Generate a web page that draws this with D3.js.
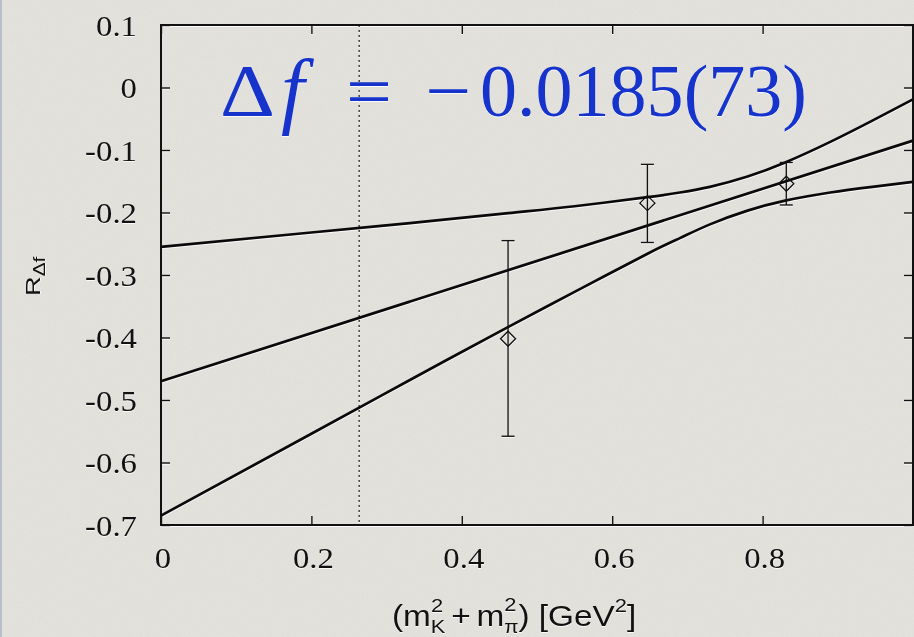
<!DOCTYPE html>
<html>
<head>
<meta charset="utf-8">
<script src="https://cdn.jsdelivr.net/npm/d3@7"></script>
<style>
  html, body { margin: 0; padding: 0; background: #e3e1dc; }
  svg { display: block; }
  .emboss { filter: drop-shadow(0 1.2px 0 rgba(255,255,255,0.85)); }
</style>
</head>
<body>
<svg id="CHART" width="914" height="637"></svg>
<script>
// axis ticks
var xTicks = [0, 0.2, 0.4, 0.6, 0.8];
var xTickLabels = ["0", "0.2", "0.4", "0.6", "0.8"];
var yTicks = [0.1, 0, -0.1, -0.2, -0.3, -0.4, -0.5, -0.6, -0.7];
var yTickLabels = ["0.1", "0", "-0.1", "-0.2", "-0.3", "-0.4", "-0.5", "-0.6", "-0.7"];

// lattice points with error bars
var ptX = [0.4615, 0.6468, 0.8315];
var ptY = [-0.402, -0.185, -0.154];
var ptHi = [-0.245, -0.123, -0.120];
var ptLo = [-0.558, -0.248, -0.188];

// linear fit (central line) and error band
var fitX = [0, 1.0];
var fitY = [-0.470, -0.085];
var bandX = [0, 0.2, 0.331, 0.462, 0.55, 0.647, 0.69, 0.73, 0.78, 0.83, 0.89, 0.946, 1.0];
var bandHi = [-0.255, -0.232, -0.217, -0.201, -0.190, -0.1755, -0.168, -0.159, -0.1425, -0.120, -0.087, -0.053, -0.019];
var bandLo = [-0.685, -0.554, -0.468, -0.383, -0.327, -0.266, -0.241, -0.219, -0.197, -0.181, -0.168, -0.159, -0.151];

// physical point (dotted line)
var physX = 0.2635;

var chart = {
  draw: function () {
    var svg = d3.select("#CHART");
    var W = 914, H = 637;
    var mL = 161, mR = 913, mT = 25, mB = 525;

    // textured backdrop
    var defs = svg.append("defs");
    var noise = defs.append("filter").attr("id", "grain")
      .attr("x", 0).attr("y", 0).attr("width", "100%").attr("height", "100%");
    noise.append("feTurbulence").attr("type", "fractalNoise")
      .attr("baseFrequency", 0.9).attr("numOctaves", 2).attr("seed", 4);
    noise.append("feColorMatrix").attr("type", "matrix")
      .attr("values", "0 0 0 0 0.45  0 0 0 0 0.44  0 0 0 0 0.42  0 0 0 0.28 -0.08");
    svg.append("rect").attr("width", W).attr("height", H).attr("fill", "#e4e2dd");
    svg.append("rect").attr("width", W).attr("height", H).attr("filter", "url(#grain)").attr("opacity", 0.5);
    svg.append("rect").attr("x", 0).attr("y", 0).attr("width", 2).attr("height", H).attr("fill", "#b8bfc8");

    var x = d3.scaleLinear().domain([0, 1.0]).range([mL, mR]);
    var y = d3.scaleLinear().domain([-0.7, 0.1]).range([mB, mT]);

    var plot = svg.append("g").attr("class", "emboss");

    // dotted physical point line
    plot.append("line")
      .attr("x1", x(physX)).attr("x2", x(physX))
      .attr("y1", y(0.1)).attr("y2", y(-0.7))
      .attr("stroke", "#1a1a1a").attr("stroke-width", 1.2)
      .attr("stroke-dasharray", "2,3");

    // axes: ticks pointing inward on all four sides
    var tickFont = "'Liberation Serif', 'Times New Roman', serif";
    var xAxis = plot.append("g").attr("transform", "translate(0," + mB + ")")
      .call(d3.axisBottom(x).tickValues(xTicks).tickSize(-9).tickPadding(22)
        .tickFormat(function (d, i) { return xTickLabels[i]; }));
    var yAxis = plot.append("g").attr("transform", "translate(" + mL + ",0)")
      .call(d3.axisLeft(y).tickValues(yTicks).tickSize(-9).tickPadding(24)
        .tickFormat(function (d, i) { return yTickLabels[i]; }));
    plot.append("g").attr("transform", "translate(0," + mT + ")")
      .call(d3.axisTop(x).tickValues(xTicks).tickSize(-9).tickFormat(""));
    plot.append("g").attr("transform", "translate(" + mR + ",0)")
      .call(d3.axisRight(y).tickValues(yTicks).tickSize(-9).tickFormat(""));

    plot.selectAll(".domain").remove();
    plot.selectAll(".tick line").attr("stroke", "#111").attr("stroke-width", 1.4);
    plot.selectAll(".tick text")
      .attr("fill", "#111")
      .style("font-family", tickFont)
      .style("font-size", "29px");
    xAxis.selectAll(".tick text")
      .attr("y", 0).attr("dy", "0.71em")
      .attr("transform", "translate(1.5,22) scale(1.13,1)");
    yAxis.selectAll(".tick text")
      .attr("x", 0).attr("dy", "0.36em")
      .attr("transform", "translate(-24,0) scale(1.13,1)");

    // frame
    plot.append("rect")
      .attr("x", mL).attr("y", mT)
      .attr("width", mR - mL).attr("height", mB - mT)
      .attr("fill", "none").attr("stroke", "#111").attr("stroke-width", 2);

    // fit curves
    var fitLine = d3.line()
      .x(function (d) { return x(d[0]); })
      .y(function (d) { return y(d[1]); })
      .curve(d3.curveNatural);

    var curves = [
      d3.zip(fitX, fitY),
      d3.zip(bandX, bandHi),
      d3.zip(bandX, bandLo)
    ];
    plot.append("g").selectAll("path")
      .data(curves)
      .join("path")
      .attr("d", fitLine)
      .attr("fill", "none")
      .attr("stroke", "#0a0a0a")
      .attr("stroke-width", 2.7);

    // data points: error bars + open diamonds
    var pts = d3.range(ptX.length).map(function (i) {
      return { x: ptX[i], y: ptY[i], hi: ptHi[i], lo: ptLo[i] };
    });
    var cap = 6.5, dm = 7.5;
    var pg = plot.append("g").selectAll("g").data(pts).join("g")
      .attr("stroke", "#111").attr("stroke-width", 1.35).attr("fill", "none");
    pg.append("line")
      .attr("x1", function (d) { return x(d.x); }).attr("x2", function (d) { return x(d.x); })
      .attr("y1", function (d) { return y(d.hi); }).attr("y2", function (d) { return y(d.lo); });
    pg.append("line")
      .attr("x1", function (d) { return x(d.x) - cap; }).attr("x2", function (d) { return x(d.x) + cap; })
      .attr("y1", function (d) { return y(d.hi); }).attr("y2", function (d) { return y(d.hi); });
    pg.append("line")
      .attr("x1", function (d) { return x(d.x) - cap; }).attr("x2", function (d) { return x(d.x) + cap; })
      .attr("y1", function (d) { return y(d.lo); }).attr("y2", function (d) { return y(d.lo); });
    pg.append("path")
      .attr("d", function (d) {
        var cx = x(d.x), cy = y(d.y);
        return "M" + cx + "," + (cy - dm) + "L" + (cx + dm) + "," + cy +
          "L" + cx + "," + (cy + dm) + "L" + (cx - dm) + "," + cy + "Z";
      });

    // result label
    var blue = "#1634cc";
    var res = svg.append("g").attr("class", "emboss")
      .attr("fill", blue)
      .style("font-family", "'Liberation Serif', 'Times New Roman', serif")
      .style("font-size", "75px");
    var base = 116;
    res.append("text").attr("x", 220).attr("y", base).attr("textLength", 55)
      .attr("lengthAdjust", "spacingAndGlyphs").text("\u0394");
    res.append("text").attr("x", 281).attr("y", base + 2).style("font-style", "italic")
      .style("font-size", "84px").text("f");
    res.append("text").attr("x", 346).attr("y", base).attr("textLength", 46)
      .attr("lengthAdjust", "spacingAndGlyphs").text("=");
    res.append("text").attr("x", 425).attr("y", base).attr("textLength", 46)
      .attr("lengthAdjust", "spacingAndGlyphs").text("\u2212");
    res.append("text").attr("x", 480).attr("y", base).attr("textLength", 327)
      .attr("lengthAdjust", "spacingAndGlyphs").text("0.0185(73)");

    // axis titles
    var sans = "'Liberation Sans', Arial, Helvetica, sans-serif";
    var yl = svg.append("text").attr("class", "emboss")
      .attr("transform", "translate(40,296) rotate(-90) scale(1.3,1)")
      .attr("fill", "#111")
      .style("font-family", sans).style("font-size", "21px");
    yl.append("tspan").text("R");
    yl.append("tspan").attr("dy", 5).style("font-size", "16px").text("\u0394f");

    var xl = svg.append("text").attr("class", "emboss")
      .attr("transform", "translate(392,626) scale(1.15,1)")
      .attr("fill", "#111")
      .style("font-family", sans).style("font-size", "29px");
    xl.append("tspan").text("(m");
    xl.append("tspan").attr("dy", -14).style("font-size", "19px").text("2");
    xl.append("tspan").attr("dx", -10.6).attr("dy", 21).style("font-size", "19px").text("K");
    xl.append("tspan").attr("dx", 5).attr("dy", -7).text("+");
    xl.append("tspan").attr("dx", 5).text("m");
    xl.append("tspan").attr("dy", -15).style("font-size", "19px").text("2");
    xl.append("tspan").attr("dx", -10.6).attr("dy", 22).style("font-size", "18px").text("\u03c0");
    xl.append("tspan").attr("dy", -7).text(") [GeV");
    xl.append("tspan").attr("dy", -14).style("font-size", "19px").text("2");
    xl.append("tspan").attr("dy", 14).text("]");
  }
};

chart.draw();
</script>
</body>
</html>
